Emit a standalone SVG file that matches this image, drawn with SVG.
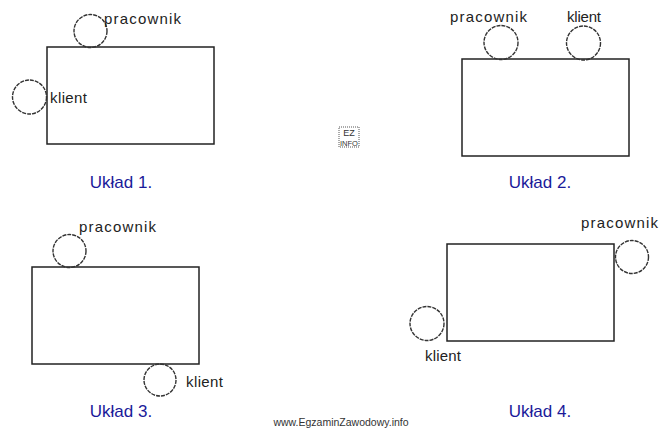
<svg xmlns="http://www.w3.org/2000/svg" width="669" height="429" viewBox="0 0 669 429">
<style>
.room{fill:none;stroke:#222;stroke-width:1.5}
.seat{fill:none;stroke:#333;stroke-width:1.4;stroke-dasharray:4 1}
.lbl{font-family:"Liberation Sans",Arial,sans-serif;font-size:15px;fill:#222}
.cap{font-family:"Liberation Sans",Arial,sans-serif;font-size:17px;fill:#1a1a9a;text-anchor:middle}
.wm{font-family:"Liberation Sans",Arial,sans-serif;font-size:10.5px;fill:#333;text-anchor:middle}
</style>
<rect width="669" height="429" fill="#fff"/>
<g id="uklad1">
<rect class="room" x="47" y="47" width="167" height="97"/>
<circle class="seat" cx="90.5" cy="31" r="16.5"/>
<text class="lbl" x="104" y="24" textLength="77" lengthAdjust="spacing">pracownik</text>
<circle class="seat" cx="29.5" cy="97" r="17"/>
<text class="lbl" x="50" y="103" textLength="37" lengthAdjust="spacing">klient</text>
<text class="cap" x="121" y="188">Układ 1.</text>
</g>
<g id="uklad2">
<rect class="room" x="462" y="59" width="167" height="97"/>
<circle class="seat" cx="501" cy="42.5" r="17"/>
<text class="lbl" x="450" y="22" textLength="77" lengthAdjust="spacing">pracownik</text>
<circle class="seat" cx="583.5" cy="43" r="17"/>
<text class="lbl" x="567" y="22" textLength="34" lengthAdjust="spacing">klient</text>
<text class="cap" x="540" y="188">Układ 2.</text>
</g>
<g id="uklad3">
<rect class="room" x="32" y="267" width="167" height="97"/>
<circle class="seat" cx="69.5" cy="251" r="16.5"/>
<text class="lbl" x="79" y="232" textLength="77" lengthAdjust="spacing">pracownik</text>
<circle class="seat" cx="160" cy="380" r="16"/>
<text class="lbl" x="186" y="387" textLength="37" lengthAdjust="spacing">klient</text>
<text class="cap" x="121" y="417">Układ 3.</text>
</g>
<g id="uklad4">
<rect class="room" x="447" y="244" width="167" height="97"/>
<circle class="seat" cx="632" cy="257" r="16.5"/>
<text class="lbl" x="581" y="228" textLength="77" lengthAdjust="spacing">pracownik</text>
<circle class="seat" cx="427" cy="323.5" r="17"/>
<text class="lbl" x="425" y="361" textLength="36" lengthAdjust="spacing">klient</text>
<text class="cap" x="540" y="417">Układ 4.</text>
</g>
<g id="logo">
<rect x="339" y="127" width="20" height="20" fill="none" stroke="#444" stroke-width="0.9" stroke-dasharray="1 1"/>
<text x="349" y="136" font-family="Liberation Sans,Arial,sans-serif" font-size="9" fill="#333" text-anchor="middle">EZ</text>
<text x="349" y="145.5" font-family="Liberation Sans,Arial,sans-serif" font-size="7.5" fill="#333" text-anchor="middle">INFO</text>
</g>
<text class="wm" x="341" y="426">www.EgzaminZawodowy.info</text>
</svg>
